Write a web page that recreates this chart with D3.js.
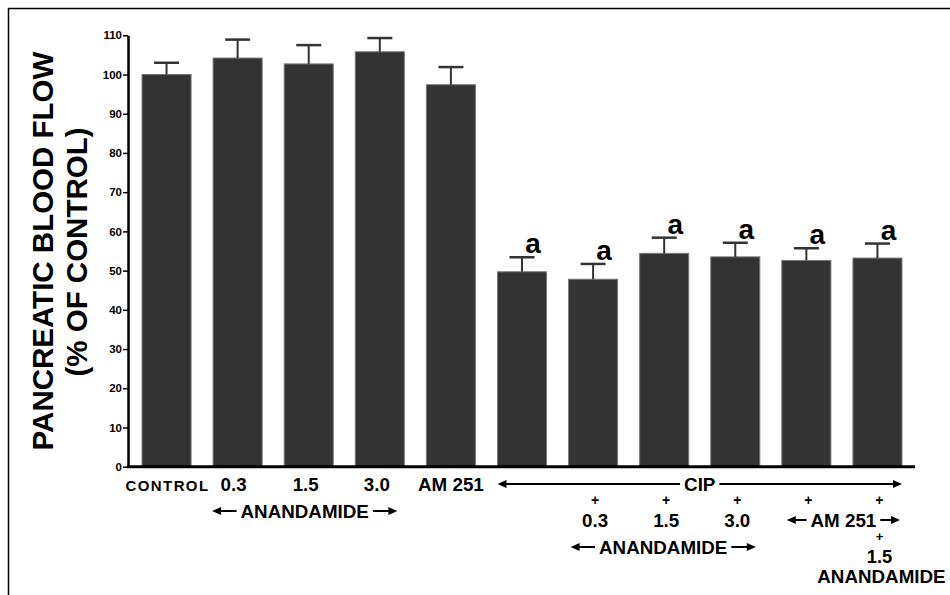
<!DOCTYPE html>
<html>
<head>
<meta charset="utf-8">
<script src="https://cdn.jsdelivr.net/npm/d3@7"></script>
<style>
  body { margin: 0; background: #fff; }
  text { font-family: "Liberation Sans", Arial, sans-serif; font-weight: bold; fill: #000; }
</style>
</head>
<body>
<script>
// values (% of control)
const groups = ["CONTROL", "A0.3", "A1.5", "A3.0", "AM251", "CIP", "CIP+A0.3", "CIP+A1.5", "CIP+A3.0", "CIP+AM251", "CIP+AM251+A1.5"];
const means  = [100.0, 104.2, 102.7, 105.8, 97.4, 49.7, 47.8, 54.4, 53.5, 52.6, 53.2];
const sems   = [3.0, 4.7, 4.8, 3.5, 4.5, 3.7, 3.9, 4.0, 3.6, 3.1, 3.7];
const marks  = ["", "", "", "", "", "a", "a", "a", "a", "a", "a"];
const yTicks = [0, 10, 20, 30, 40, 50, 60, 70, 80, 90, 100, 110];

const W = 950, H = 595;
const svg = d3.select("body").append("svg").attr("width", W).attr("height", H);

// outer frame (only left and top edges show)
svg.append("rect")
    .attr("x", 8.5).attr("y", 8.5)
    .attr("width", 1000).attr("height", 1000)
    .attr("fill", "none").attr("stroke", "#000").attr("stroke-width", 1.5);

const x = d3.scaleBand().domain(groups).range([131, 913]).paddingInner(0.31).paddingOuter(0.155);
const y = d3.scaleLinear().domain([0, 110]).range([466.7, 35.3]);
const bw = x.bandwidth();
const cx = g => x(g) + bw / 2;

// bars
svg.selectAll("rect.bar")
    .data(groups)
    .enter().append("rect")
        .attr("class", "bar")
        .attr("x", d => x(d))
        .attr("y", (d, i) => y(means[i]))
        .attr("width", bw)
        .attr("height", (d, i) => y(0) - y(means[i]))
        .attr("fill", "#333")
        .attr("stroke", "#777")
        .attr("stroke-width", 1);

// error bars (upper only)
svg.selectAll("line.err")
    .data(groups)
    .enter().append("line")
        .attr("class", "err")
        .attr("x1", d => cx(d)).attr("x2", d => cx(d))
        .attr("y1", (d, i) => y(means[i]))
        .attr("y2", (d, i) => y(means[i] + sems[i]))
        .attr("stroke", "#333").attr("stroke-width", 2);
svg.selectAll("line.cap")
    .data(groups)
    .enter().append("line")
        .attr("class", "cap")
        .attr("x1", d => cx(d) - 12.5).attr("x2", d => cx(d) + 12.5)
        .attr("y1", (d, i) => y(means[i] + sems[i]))
        .attr("y2", (d, i) => y(means[i] + sems[i]))
        .attr("stroke", "#333").attr("stroke-width", 2.5);

// significance letters
svg.selectAll("text.sig")
    .data(groups)
    .enter().append("text")
        .attr("class", "sig")
        .attr("x", d => cx(d) + 11)
        .attr("y", (d, i) => y(means[i] + sems[i]) - 4)
        .attr("text-anchor", "middle")
        .attr("font-size", 28)
        .text((d, i) => marks[i]);

// y axis
const yAxis = svg.append("g")
    .attr("transform", "translate(128,0)")
    .call(d3.axisLeft(y).tickValues(yTicks).tickSize(5).tickPadding(1).tickSizeOuter(0));
yAxis.select(".domain").attr("stroke-width", 2.5);
yAxis.selectAll(".tick line").attr("stroke-width", 1.5);
yAxis.selectAll(".tick text").attr("font-size", 11.5).style("font-weight", "bold");

// x axis line
svg.append("line")
    .attr("x1", 127).attr("x2", 915)
    .attr("y1", y(0)).attr("y2", y(0))
    .attr("stroke", "#000").attr("stroke-width", 3);

// y title
svg.append("text")
    .attr("transform", "translate(53,251) rotate(-90)")
    .attr("text-anchor", "middle")
    .attr("font-size", 29.5)
    .text("PANCREATIC BLOOD FLOW");
svg.append("text")
    .attr("transform", "translate(87,252) rotate(-90)")
    .attr("text-anchor", "middle")
    .attr("font-size", 29.5)
    .text("(% OF CONTROL)");

// category labels
function label(txt, xc, yb, size, extra) {
  const t = svg.append("text")
      .attr("x", xc).attr("y", yb)
      .attr("text-anchor", "middle")
      .attr("font-size", size || 18.8)
      .text(txt);
  if (extra) t.attr("letter-spacing", extra);
  return t;
}

function arrowHead(xt, yc, dir) {
  svg.append("path")
      .attr("d", `M${xt},${yc} L${xt - dir * 9},${yc - 4} L${xt - dir * 9},${yc + 4} Z`)
      .attr("fill", "#000");
}

// text with arrows to both ends
function span(txt, x1, x2, yb) {
  const mid = (x1 + x2) / 2;
  const t = label(txt, mid, yb);
  const w = t.node().getComputedTextLength();
  const yc = yb - 7;
  svg.append("line").attr("x1", x1 + 4).attr("x2", mid - w / 2 - 4)
      .attr("y1", yc).attr("y2", yc).attr("stroke", "#000").attr("stroke-width", 2);
  svg.append("line").attr("x1", mid + w / 2 + 4).attr("x2", x2 - 4)
      .attr("y1", yc).attr("y2", yc).attr("stroke", "#000").attr("stroke-width", 2);
  arrowHead(x1, yc, -1);
  arrowHead(x2, yc, 1);
}

label("CONTROL", cx(groups[0]) + 1, 491, 15, 1.4);
label("0.3", cx(groups[1]) - 4, 491);
label("1.5", cx(groups[2]) - 3, 491);
label("3.0", cx(groups[3]) - 3, 491);
label("AM 251", cx(groups[4]), 491);
span("ANANDAMIDE", x(groups[1]) - 1, x(groups[3]) + bw - 7, 518);

span("CIP", x(groups[5]), x(groups[10]) + bw, 491);
[6, 7, 8, 9, 10].forEach(i => label("+", cx(groups[i]) + 2, 505, 14));
label("0.3", cx(groups[6]) + 2, 527);
label("1.5", cx(groups[7]) + 2, 527);
label("3.0", cx(groups[8]) + 2, 527);
span("AM 251", x(groups[9]) + 5, x(groups[10]) + bw - 2, 527);
span("ANANDAMIDE", x(groups[6]) + 2, x(groups[8]) + bw - 4, 554);
label("+", cx(groups[10]) + 2, 541, 13);
label("1.5", cx(groups[10]) + 2, 563, 18.3);
label("ANANDAMIDE", cx(groups[10]) + 4, 583);
</script>
</body>
</html>
